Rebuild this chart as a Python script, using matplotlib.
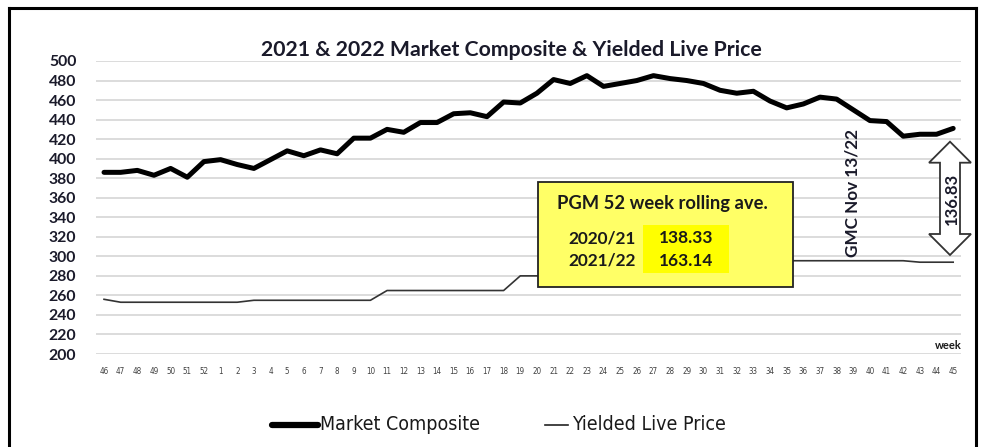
import matplotlib
matplotlib.use("Agg")
import matplotlib.pyplot as plt
from matplotlib.patches import Rectangle, Polygon
from matplotlib.lines import Line2D

plt.rcParams['font.family'] = ['Lato', 'DejaVu Sans']

# ---- data ----
weeks = ['46', '47', '48', '49', '50', '51', '52'] + [str(w) for w in range(1, 46)]
market_composite = [386, 386, 388, 383, 390, 381, 397, 399, 394, 390,
                    399, 408, 403, 409, 405, 421, 421, 430, 427, 437,
                    437, 446, 447, 443, 458, 457, 467, 481, 477, 485,
                    474, 477, 480, 485, 482, 480, 477, 470, 467, 469,
                    459, 452, 456, 463, 461, 450, 439, 438, 423, 425,
                    425, 431]
yielded_live = [256, 253, 253, 253, 253, 253, 253, 253, 253, 255,
                255, 255, 255, 255, 255, 255, 255, 265, 265, 265,
                265, 265, 265, 265, 265, 280, 280, 280, 280, 280,
                280, 295.5, 295.5, 295.5, 295.5, 295.5, 295.5, 295.5, 295.5, 295.5,
                295.5, 295.5, 295.5, 295.5, 295.5, 295.5, 295.5, 295.5, 295.5, 294,
                294, 294]
y_ticks = list(range(200, 501, 20))
title = '2021 & 2022 Market Composite & Yielded Live Price'
box_title = 'PGM 52 week rolling ave.'
box_years = ['2020/21', '2021/22']
box_values = ['138.33', '163.14']
gap_label = '136.83'
gmc_label = 'GMC Nov 13/22'

W, H = 981, 447
fig = plt.figure(figsize=(W / 100, H / 100), dpi=100)
fig.patch.set_facecolor('white')

def fx(x):
    return x / W

def fy(y):
    return 1 - y / H

ax_l, ax_r, ax_t, ax_b = 95.7, 961.5, 61, 354
ax = fig.add_axes([fx(ax_l), fy(ax_b), (ax_r - ax_l) / W, (ax_b - ax_t) / H])
ax.set_facecolor('none')

x = list(range(len(weeks)))
ax.plot(x, yielded_live, color='#333333', lw=1.2, zorder=3)
ax.plot(x, market_composite, color='black', lw=3.6, zorder=4,
        solid_joinstyle='round', solid_capstyle='round')

ax.set_xlim(-0.5, len(weeks) - 0.5)
ax.set_ylim(200, 500)
ax.set_yticks(y_ticks)
ax.set_yticklabels([str(v) for v in y_ticks])
ax.set_xticks(x)
ax.set_xticklabels(weeks)
ax.grid(axis='y', color='#d9d9d9', lw=1.3, zorder=0)
ax.set_axisbelow(True)
for s in ax.spines.values():
    s.set_visible(False)
ax.tick_params(axis='y', length=0, pad=14, labelsize=11.3, labelcolor='#1a1a2a')
ax.tick_params(axis='x', length=0, pad=9, labelsize=5.8, labelcolor='#404040')
for lbl in ax.get_yticklabels():
    lbl.set_fontweight('bold')
for lbl in ax.get_xticklabels():
    lbl.set_family('DejaVu Sans')
    lbl.set_fontstretch('condensed')

# week label
ax.text(1.0, 209, 'week', transform=ax.get_yaxis_transform(), ha='right', va='center',
        fontsize=8, fontweight='bold', color='#1a1a1a')

# title
fig.text(fx(511), fy(50), title, ha='center', va='center', fontsize=15.3,
         fontweight='bold', color='#1a1a2a')

# outer frame
for (x0, y0, x1, y1) in [(9, 8, 976, 8), (9, 8, 9, 447), (976, 8, 976, 447)]:
    fig.add_artist(Line2D([fx(x0), fx(x1)], [fy(y0), fy(y1)], color='black', lw=2.2,
                          transform=fig.transFigure))

# yellow box
fig.add_artist(Rectangle((fx(538), fy(286.7)), fx(793) - fx(538), fy(181.7) - fy(286.7),
                         transform=fig.transFigure, facecolor='#ffff66', edgecolor='#222222',
                         lw=1.3, zorder=5))
fig.add_artist(Rectangle((fx(643), fy(273)), fx(729) - fx(643), fy(225) - fy(273),
                         transform=fig.transFigure, facecolor='#ffff00', edgecolor='none',
                         zorder=6))
fig.text(fx(662), fy(203), box_title, ha='center', va='center', fontsize=13.2,
         fontweight='bold', color='#1a1a1a', zorder=7)
for i, (yr, val) in enumerate(zip(box_years, box_values)):
    yy = 238 + i * 23
    fig.text(fx(568), fy(yy), yr, ha='left', va='center', fontsize=12.4,
             fontweight='bold', color='#1a1a1a', zorder=7)
    fig.text(fx(686), fy(yy), val, ha='center', va='center', fontsize=12.4,
             fontweight='bold', color='#1a1a1a', zorder=7)

# GMC label
fig.text(fx(853), fy(193), gmc_label, rotation=90, ha='center', va='center',
         fontsize=12.3, fontweight='bold', color='#1a1a2a', zorder=7)

# double arrow
cx, top, bot = 950, 141.7, 255
hw, sw, hl = 21, 10, 21
pts = [(cx, top), (cx + hw, top + hl), (cx + sw, top + hl), (cx + sw, bot - hl),
       (cx + hw, bot - hl), (cx, bot), (cx - hw, bot - hl), (cx - sw, bot - hl),
       (cx - sw, top + hl), (cx - hw, top + hl)]
fig.add_artist(Polygon([(fx(a), fy(b)) for a, b in pts], closed=True,
                       transform=fig.transFigure, facecolor='white',
                       edgecolor='#333333', lw=1.3, zorder=5))
fig.text(fx(951.5), fy(199), gap_label, rotation=90, ha='center', va='center',
         fontsize=12, fontweight='bold', color='#1a1a2a', zorder=7)

# legend
fig.add_artist(Line2D([fx(272), fx(318)], [fy(425), fy(425)], color='black', lw=4.5,
                      solid_capstyle='round', transform=fig.transFigure))
fig.text(fx(320), fy(425), 'Market Composite', ha='left', va='center', fontsize=14,
         family='DejaVu Sans', fontstretch='condensed', color='#1a1a1a')
fig.add_artist(Line2D([fx(545), fx(568)], [fy(425), fy(425)], color='#222222', lw=1.2,
                      transform=fig.transFigure))
fig.text(fx(572), fy(425), 'Yielded Live Price', ha='left', va='center', fontsize=14,
         family='DejaVu Sans', fontstretch='condensed', color='#1a1a1a')

fig.savefig('out.png', dpi=100)
